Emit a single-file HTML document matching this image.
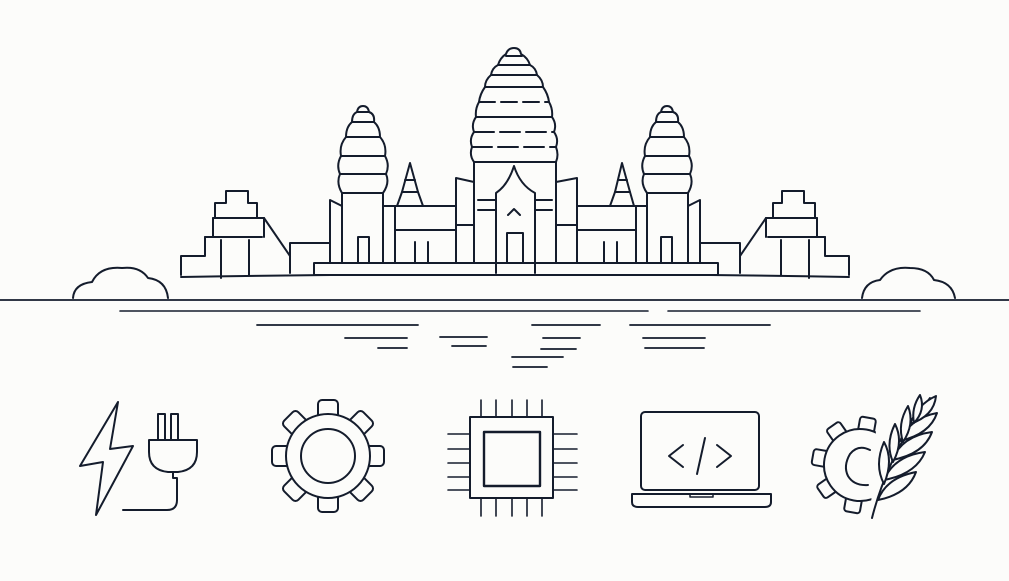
<!DOCTYPE html>
<html><head><meta charset="utf-8"><style>
html,body{margin:0;padding:0;background:#fcfcfa;}
svg{display:block}
</style></head><body>
<svg width="1009" height="581" viewBox="0 0 1009 581" xmlns="http://www.w3.org/2000/svg">
<rect width="1009" height="581" fill="#fcfcfa"/>
<g fill="none" stroke="#141c2c" stroke-width="2" stroke-linejoin="round" stroke-linecap="round">
<path d="M73,298 Q74,284 92,282 Q100,266 122,268 Q140,266 148,278 Q166,280 168,298"/>
<path d="M862,298 Q864,282 880,280 Q890,266 910,268 Q928,268 934,280 Q952,282 955,298"/>
<line x1="0" y1="300" x2="1009" y2="300" stroke-width="1.8"/>
<line x1="120" y1="311" x2="648" y2="311" stroke-width="1.6"/>
<line x1="668" y1="311" x2="920" y2="311" stroke-width="1.6"/>
<g stroke-width="1.8">
<line x1="257" y1="325" x2="418" y2="325"/><line x1="532" y1="325" x2="600" y2="325"/><line x1="630" y1="325" x2="770" y2="325"/>
<line x1="345" y1="338" x2="407" y2="338"/><line x1="440" y1="337" x2="487" y2="337"/><line x1="543" y1="338" x2="580" y2="338"/><line x1="643" y1="338" x2="705" y2="338"/>
<line x1="378" y1="348" x2="407" y2="348"/><line x1="452" y1="346" x2="486" y2="346"/><line x1="541" y1="349" x2="576" y2="349"/><line x1="645" y1="348" x2="704" y2="348"/>
<line x1="512" y1="357" x2="563" y2="357"/><line x1="513" y1="367" x2="547" y2="367"/>
</g>
<path d="M181,277 Q514,271 849,277"/>
<rect x="314" y="263" width="404" height="12" fill="#fcfcfa"/>
<path d="M181,275 V256 H205 V237 H213 V218 H215 V203 H226 V191 H248 V203 H257 V218 H264 V237"/>
<line x1="205" y1="237" x2="262" y2="237"/><line x1="213" y1="218" x2="264" y2="218"/>
<line x1="264" y1="218" x2="290" y2="256"/><line x1="221" y1="240" x2="221" y2="278"/><line x1="249" y1="240" x2="249" y2="275"/>
<path d="M290,273 V243 H330"/>
<path d="M849,275 V256 H825 V237 H817 V218 H815 V203 H804 V191 H782 V203 H773 V218 H766 V237"/>
<line x1="825" y1="237" x2="768" y2="237"/><line x1="817" y1="218" x2="766" y2="218"/>
<line x1="766" y1="218" x2="740" y2="256"/><line x1="809" y1="240" x2="809" y2="278"/><line x1="781" y1="240" x2="781" y2="275"/>
<path d="M740,273 V243 H700"/>
<path d="M330,263 V200 L342,206"/>
<path d="M342,263 V193 H383 V263"/>
<path d="M342,193 Q336,183 340,174 Q336,165 341,156 Q339,145 346,137 Q346,127 352,122 Q352,114 357,112 Q358,106 363,106 Q368,106 369,112 Q375,114 374,122 Q380,127 380,137 Q387,145 385,156 Q390,165 386,174 Q390,183 383,193"/>
<line x1="340" y1="174" x2="386" y2="174"/><line x1="341" y1="156" x2="385" y2="156"/><line x1="346" y1="137" x2="380" y2="137"/><line x1="352" y1="122" x2="374" y2="122"/><line x1="357" y1="112" x2="369" y2="112"/>
<rect x="358" y="237" width="11" height="26"/>
<line x1="383" y1="206" x2="395" y2="206"/>
<path d="M700,263 V200 L688,206"/>
<path d="M647,263 V193 H688 V263"/>
<path d="M647,193 Q640,183 644,174 Q640,165 645,156 Q643,145 650,137 Q650,127 656,122 Q656,114 661,112 Q662,106 667,106 Q672,106 673,112 Q679,114 678,122 Q684,127 684,137 Q691,145 689,156 Q694,165 690,174 Q694,183 688,193"/>
<line x1="644" y1="174" x2="690" y2="174"/><line x1="645" y1="156" x2="689" y2="156"/><line x1="650" y1="137" x2="684" y2="137"/><line x1="656" y1="122" x2="678" y2="122"/><line x1="661" y1="112" x2="673" y2="112"/>
<rect x="661" y="237" width="11" height="26"/>
<line x1="647" y1="206" x2="636" y2="206"/>
<path d="M395,263 V206 H456"/><line x1="395" y1="230" x2="456" y2="230"/>
<line x1="415" y1="242" x2="415" y2="263"/><line x1="428" y1="242" x2="428" y2="263"/>
<path d="M397,206 L402,192 L410,163 L418,192 L423,206"/><line x1="402" y1="192" x2="418" y2="192"/><line x1="405" y1="180" x2="415" y2="180"/>
<path d="M636,263 V206 H577"/><line x1="636" y1="230" x2="577" y2="230"/>
<line x1="604" y1="242" x2="604" y2="263"/><line x1="617" y1="242" x2="617" y2="263"/>
<path d="M610,206 L615,192 L622,163 L630,192 L634,206"/><line x1="615" y1="192" x2="630" y2="192"/><line x1="618" y1="180" x2="627" y2="180"/>
<path d="M456,263 V178 L474,182"/><line x1="456" y1="225" x2="474" y2="225"/>
<path d="M577,263 V178 L556,182"/><line x1="577" y1="225" x2="556" y2="225"/>
<path d="M474,263 V162 H556 V263"/>
<line x1="478" y1="210" x2="496" y2="210"/><line x1="535" y1="210" x2="552" y2="210"/>
<line x1="478" y1="200" x2="496" y2="200"/><line x1="535" y1="200" x2="552" y2="200"/>
<path d="M474,162 Q469,155 472,147 Q469,139 474,132 Q471,124 476,117 Q475,109 479,102 Q480,94 485,87 Q485,80 491,75 Q492,68 498,65 Q500,58 506,54 Q508,48 514,48 Q520,48 521,54 Q528,58 530,65 Q536,68 537,75 Q543,80 543,87 Q548,94 549,102 Q553,109 552,117 Q557,124 554,132 Q559,139 556,147 Q559,155 556,162"/>
<line x1="472" y1="147" x2="556" y2="147" stroke-dasharray="20 6"/><line x1="474" y1="132" x2="554" y2="132" stroke-dasharray="20 6"/><line x1="479" y1="102" x2="549" y2="102" stroke-dasharray="16 6"/>
<line x1="485" y1="87" x2="543" y2="87"/><line x1="491" y1="75" x2="537" y2="75"/><line x1="498" y1="65" x2="530" y2="65"/><line x1="506" y1="56" x2="522" y2="56"/>
<line x1="476" y1="117" x2="552" y2="117"/>
<path d="M496,273 V193 Q508,185 514,166 Q520,185 535,193 V273" fill="#fcfcfa"/>
<path d="M508,215 L514,209 L520,215"/>
<rect x="507" y="233" width="16" height="30"/>
<line x1="496" y1="263" x2="535" y2="263"/>
<!-- ICONS -->
<path d="M118,402 L80,466 L103,462 L96,515 L133,446 L110,449 Z"/>
<rect x="158" y="414" width="7" height="26"/><rect x="171" y="414" width="7" height="26"/>
<path d="M149,440 H197 V452 Q197,470 178,472 H168 Q149,470 149,452 Z"/>
<path d="M173,472 V478 H177 V500 Q177,510 167,510 H123"/>
<g transform="translate(328,456)">
<g fill="#fcfcfa">
<rect x="-10" y="-56" width="20" height="20" rx="4"/>
<rect x="-10" y="-56" width="20" height="20" rx="4" transform="rotate(45)"/>
<rect x="-10" y="-56" width="20" height="20" rx="4" transform="rotate(90)"/>
<rect x="-10" y="-56" width="20" height="20" rx="4" transform="rotate(135)"/>
<rect x="-10" y="-56" width="20" height="20" rx="4" transform="rotate(180)"/>
<rect x="-10" y="-56" width="20" height="20" rx="4" transform="rotate(225)"/>
<rect x="-10" y="-56" width="20" height="20" rx="4" transform="rotate(270)"/>
<rect x="-10" y="-56" width="20" height="20" rx="4" transform="rotate(315)"/>
</g>
<circle r="42" fill="#fcfcfa"/>
<circle r="27"/>
</g>
<rect x="470" y="417" width="83" height="81"/>
<rect x="484" y="432" width="56" height="54" stroke-width="2.4"/>
<g stroke-width="1.6">
<line x1="481" y1="400" x2="481" y2="417"/><line x1="496" y1="400" x2="496" y2="417"/><line x1="512" y1="400" x2="512" y2="417"/><line x1="527" y1="400" x2="527" y2="417"/><line x1="542" y1="400" x2="542" y2="417"/>
<line x1="481" y1="498" x2="481" y2="516"/><line x1="496" y1="498" x2="496" y2="516"/><line x1="512" y1="498" x2="512" y2="516"/><line x1="527" y1="498" x2="527" y2="516"/><line x1="542" y1="498" x2="542" y2="516"/>
<line x1="448" y1="434" x2="470" y2="434"/><line x1="448" y1="449" x2="470" y2="449"/><line x1="448" y1="463" x2="470" y2="463"/><line x1="448" y1="477" x2="470" y2="477"/><line x1="448" y1="490" x2="470" y2="490"/>
<line x1="553" y1="434" x2="577" y2="434"/><line x1="553" y1="449" x2="577" y2="449"/><line x1="553" y1="463" x2="577" y2="463"/><line x1="553" y1="477" x2="577" y2="477"/><line x1="553" y1="490" x2="577" y2="490"/>
</g>
<rect x="641" y="412" width="118" height="78" rx="4"/>
<path d="M632,494 H771 V502 Q771,507 765,507 H638 Q632,507 632,502 Z"/>
<path d="M690,494 V497 H713 V494" stroke-width="1.5"/>
<path d="M683,445 L669,456 L683,467"/><path d="M717,445 L731,456 L717,467"/><line x1="705" y1="438" x2="697" y2="474"/>
<!-- gear 2 -->
<g transform="translate(860,465) rotate(10)">
<g fill="#fcfcfa">
<rect x="-8" y="-48" width="16" height="16" rx="3"/>
<rect x="-8" y="-48" width="16" height="16" rx="3" transform="rotate(45)"/>
<rect x="-8" y="-48" width="16" height="16" rx="3" transform="rotate(90)"/>
<rect x="-8" y="-48" width="16" height="16" rx="3" transform="rotate(135)"/>
<rect x="-8" y="-48" width="16" height="16" rx="3" transform="rotate(180)"/>
<rect x="-8" y="-48" width="16" height="16" rx="3" transform="rotate(225)"/>
<rect x="-8" y="-48" width="16" height="16" rx="3" transform="rotate(270)"/>
<rect x="-8" y="-48" width="16" height="16" rx="3" transform="rotate(315)"/>
</g>
<circle r="36" fill="#fcfcfa"/>
</g>
<path d="M870,450 Q858,444 850,454 Q843,466 848,476 Q854,486 868,485"/>
<!-- wheat: cover right half of gear -->
<path d="M876,430 L940,392 L945,520 L870,520 Z" fill="#fcfcfa" stroke="none"/>
<path d="M872,518 Q888,455 930,398"/>
<path d="M878,500 Q886,478 916,472 Q908,494 878,500Z" fill="#fcfcfa"/>
<path d="M884,480 Q894,456 925,452 Q916,474 884,480Z" fill="#fcfcfa"/>
<path d="M892,460 Q902,436 932,432 Q924,454 892,460Z" fill="#fcfcfa"/>
<path d="M900,441 Q910,418 937,413 Q930,434 900,441Z" fill="#fcfcfa"/>
<path d="M910,424 Q918,404 936,396 Q934,416 910,424Z" fill="#fcfcfa"/>
<path d="M884,484 Q874,465 884,442 Q894,460 884,484Z" fill="#fcfcfa"/>
<path d="M893,462 Q885,444 895,424 Q904,442 893,462Z" fill="#fcfcfa"/>
<path d="M903,442 Q897,424 908,406 Q915,424 903,442Z" fill="#fcfcfa"/>
<path d="M914,423 Q911,408 920,395 Q926,410 914,423Z" fill="#fcfcfa"/>
</g>
</svg>
</body></html>
